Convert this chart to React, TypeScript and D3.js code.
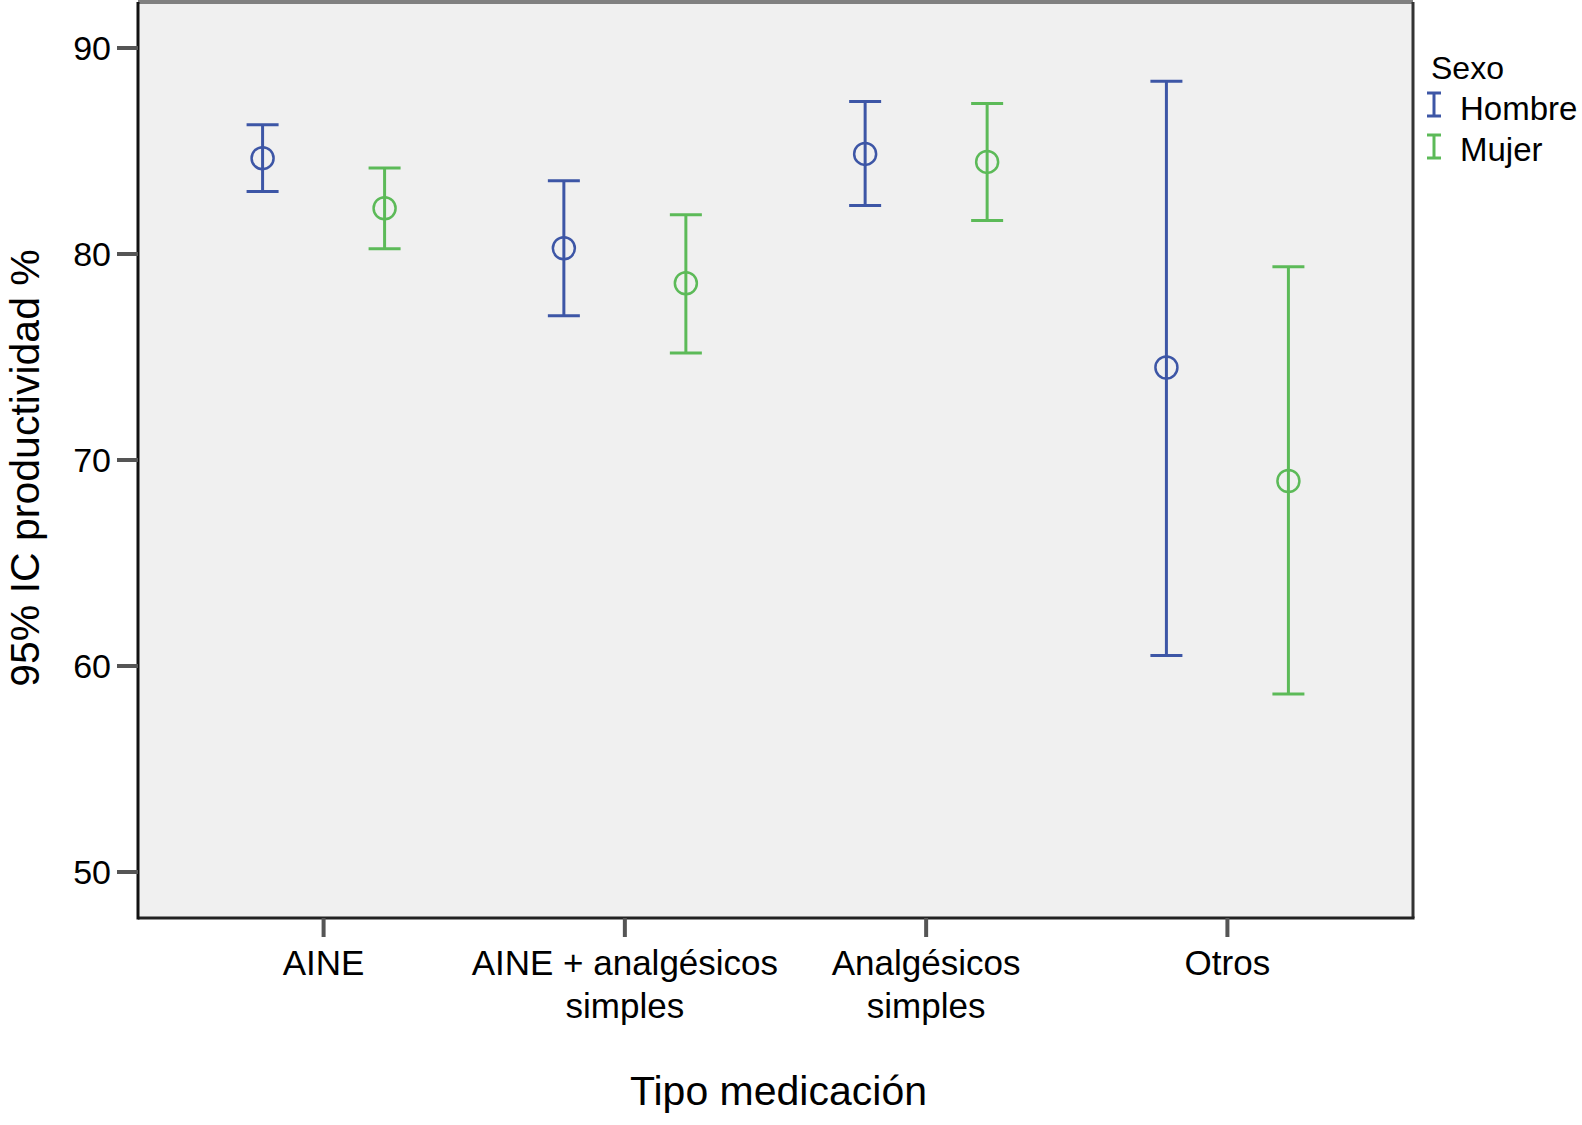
import React from "react";
import * as d3 from "d3";

// categorías y valores (IC 95%)
const categorias = ["AINE", "AINE + analgésicos simples", "Analgésicos simples", "Otros"];
const etiquetas = [["AINE"], ["AINE + analgésicos", "simples"], ["Analgésicos", "simples"], ["Otros"]];
const sexos = ["Hombre", "Mujer"];

const hombreMedia = [84.65, 80.28, 84.86, 74.49];
const hombreInf = [83.03, 77.0, 82.36, 60.51];
const hombreSup = [86.27, 83.56, 87.4, 88.38];

const mujerMedia = [82.22, 78.58, 84.47, 68.98];
const mujerInf = [80.26, 75.2, 81.63, 58.64];
const mujerSup = [84.17, 81.9, 87.3, 79.38];

const yTicks = [50, 60, 70, 80, 90];

const colores: Record<string, string> = { Hombre: "#3d56a6", Mujer: "#5cba58" };

export default function App() {
    const width = 1582;
    const height = 1125;
    const plot = { left: 138, right: 1413, top: 2, bottom: 918 };
    const font = "'Liberation Sans', Arial, Helvetica, sans-serif";

    const x = d3.scalePoint<string>()
        .domain(categorias)
        .range([plot.left, plot.right])
        .padding(0.616);

    const offset = d3.scalePoint<string>().domain(sexos).range([-61, 61]);

    const y = d3.scaleLinear().domain([50, 90]).range([872, 48]);

    const series = [
        { sexo: "Hombre", media: hombreMedia, inf: hombreInf, sup: hombreSup },
        { sexo: "Mujer", media: mujerMedia, inf: mujerInf, sup: mujerSup },
    ];

    const capHalf = 16;

    return (
        <div style={{ position: "absolute", left: 0, top: 0 }}>
            <svg width={width} height={height} style={{ display: "block", background: "#fff" }} fontFamily={font}>
                {/* área del gráfico */}
                <rect x={plot.left} y={plot.top} width={plot.right - plot.left} height={plot.bottom - plot.top} fill="#f0f0f0" />
                <line x1={plot.left} x2={plot.right} y1={plot.top} y2={plot.top} stroke="#808080" strokeWidth={4} />
                <line x1={plot.right} x2={plot.right} y1={plot.top} y2={plot.bottom} stroke="#333" strokeWidth={3} />
                <line x1={plot.left} x2={plot.right + 1.5} y1={plot.bottom} y2={plot.bottom} stroke="#222" strokeWidth={3} />
                <line x1={plot.left} x2={plot.left} y1={plot.top} y2={plot.bottom + 1.5} stroke="#111" strokeWidth={3} />

                {/* eje Y */}
                {yTicks.map(t => (
                    <g key={t}>
                        <line x1={plot.left - 21} x2={plot.left} y1={y(t)} y2={y(t)} stroke="#555" strokeWidth={4} />
                        <text x={plot.left - 27} y={y(t)} dy="0.36em" textAnchor="end" fontSize={34} fill="#000">{t}</text>
                    </g>
                ))}
                <text transform={`translate(39,${(plot.top + plot.bottom) / 2 + 8}) rotate(-90)`} textAnchor="middle" fontSize={41} fill="#000">
                    95% IC productividad %
                </text>

                {/* eje X */}
                {categorias.map((c, i) => (
                    <g key={c}>
                        <line x1={x(c)} x2={x(c)} y1={plot.bottom} y2={plot.bottom + 19} stroke="#555" strokeWidth={4} />
                        <text x={x(c)} y={975} textAnchor="middle" fontSize={35} fill="#000">
                            {etiquetas[i].map((l, k) => (
                                <tspan key={k} x={x(c)} dy={k === 0 ? 0 : 43}>{l}</tspan>
                            ))}
                        </text>
                    </g>
                ))}
                <text x={(plot.left + plot.right) / 2 + 3} y={1105} textAnchor="middle" fontSize={41} fill="#000">Tipo medicación</text>

                {/* barras de error */}
                {series.map(s => (
                    <g key={s.sexo} stroke={colores[s.sexo]} fill="none" strokeWidth={3}>
                        {categorias.map((c, i) => {
                            const cx = (x(c) as number) + (offset(s.sexo) as number);
                            return (
                                <g key={c}>
                                    <line x1={cx} x2={cx} y1={y(s.sup[i])} y2={y(s.inf[i])} />
                                    <line x1={cx - capHalf} x2={cx + capHalf} y1={y(s.sup[i])} y2={y(s.sup[i])} />
                                    <line x1={cx - capHalf} x2={cx + capHalf} y1={y(s.inf[i])} y2={y(s.inf[i])} />
                                    <circle cx={cx} cy={y(s.media[i])} r={11} strokeWidth={2.5} />
                                </g>
                            );
                        })}
                    </g>
                ))}

                {/* leyenda */}
                <text x={1431} y={79} fontSize={32} fill="#000">Sexo</text>
                {sexos.map((s, i) => {
                    const top = 93 + i * 42;
                    const bot = top + 23;
                    return (
                        <g key={s}>
                            <g stroke={colores[s]} strokeWidth={3}>
                                <line x1={1434} x2={1434} y1={top} y2={bot} />
                                <line x1={1427} x2={1441} y1={top} y2={top} />
                                <line x1={1427} x2={1441} y1={bot} y2={bot} />
                            </g>
                            <text x={1460} y={120 + i * 41} fontSize={33} fill="#000">{s}</text>
                        </g>
                    );
                })}
            </svg>
        </div>
    );
}
